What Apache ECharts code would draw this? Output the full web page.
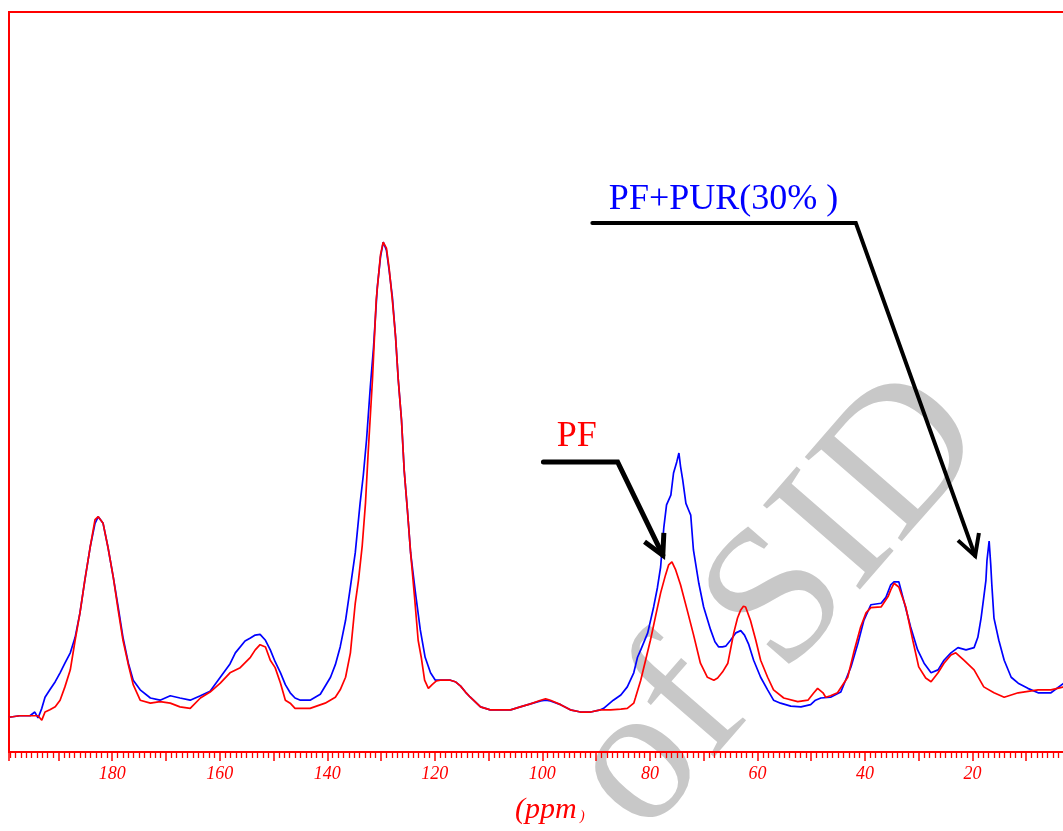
<!DOCTYPE html>
<html>
<head>
<meta charset="utf-8">
<script src="https://cdn.jsdelivr.net/npm/echarts@6/dist/echarts.min.js"></script>
<style>
html,body{margin:0;padding:0;background:#fff;overflow:hidden;width:1063px;height:831px;}
#chart{width:1080px;height:831px;}
</style>
</head>
<body>
<div id="chart"></div>
<script>
// chemical shift (ppm) and intensity (arbitrary units) of PF+PUR(30%)
const ppmBlue = [199.2,197.2,195.3,194.4,193.8,193.1,192.5,191.6,190.6,189.7,188.8,187.8,186.9,186.0,185.1,184.1,183.2,182.6,182.3,181.7,180.8,179.8,178.9,178.0,177.0,176.1,174.8,172.9,171.1,169.2,167.4,165.5,163.6,161.8,159.9,158.1,157.1,155.3,154.3,153.4,152.5,151.5,150.6,149.7,148.7,147.8,146.9,146.0,145.0,143.2,141.3,139.4,138.5,137.6,136.6,135.7,134.8,133.9,133.3,132.7,132.0,131.4,130.7,130.1,129.6,129.0,128.5,127.9,127.3,126.8,126.2,125.7,125.1,124.5,123.6,122.7,121.8,120.8,119.9,119.0,117.1,116.2,115.2,114.3,113.4,111.5,109.7,107.8,105.9,104.1,102.2,100.3,99.4,98.5,96.6,94.8,92.9,91.0,89.2,88.6,86.8,85.4,84.2,83.0,82.3,81.7,80.4,79.3,78.6,78.0,77.4,76.9,76.1,75.6,75.0,74.6,74.3,73.9,73.3,72.8,72.4,71.9,70.9,70.0,68.7,67.9,67.2,66.5,65.9,65.0,64.0,63.1,62.4,61.6,60.7,59.4,58.1,57.0,55.7,53.8,51.9,50.1,49.2,48.2,46.4,44.5,43.6,42.6,41.3,40.2,38.9,37.0,36.1,35.2,34.6,33.7,32.8,31.5,30.2,29.0,27.7,26.4,25.3,24.0,22.7,21.2,19.7,19.0,18.4,17.9,17.5,17.3,16.9,16.6,16.4,16.0,15.1,14.1,12.8,11.5,9.7,7.8,5.4,3.0,2.1];
const intBlue = [4.7,4.9,4.9,5.4,4.6,5.9,7.4,8.4,9.5,10.7,12.0,13.4,15.5,18.8,23.2,27.7,30.9,31.8,31.8,30.9,27.7,23.6,19.6,15.5,12.0,9.7,8.4,7.3,7.0,7.6,7.3,7.0,7.6,8.2,10.1,11.9,13.4,15.0,15.4,15.8,15.9,15.1,13.8,12.2,10.7,9.1,8.0,7.3,7.0,7.0,7.8,10.1,11.8,14.2,17.8,22.3,26.9,33.6,37.4,42.2,49.3,54.7,62.8,66.9,68.9,67.8,65.1,61.5,56.1,50.3,44.9,38.1,32.7,26.9,21.5,16.5,12.8,10.7,9.7,9.7,9.7,9.5,8.9,8.1,7.4,6.1,5.7,5.7,5.7,6.1,6.5,6.9,7.0,6.9,6.4,5.7,5.4,5.4,5.7,5.9,7.0,7.7,8.8,10.7,12.8,13.8,16.1,19.6,22.2,25.0,30.4,33.4,34.7,37.7,39.2,40.4,38.6,36.8,33.6,32.7,32.0,27.3,22.8,19.6,16.5,14.9,14.2,14.2,14.3,15.1,16.1,16.4,15.8,14.5,12.4,10.1,8.4,7.0,6.6,6.2,6.1,6.4,7.0,7.3,7.4,8.1,9.7,11.5,14.7,17.8,19.9,20.1,20.9,22.6,23.0,23.0,20.5,16.9,13.8,12.0,10.7,11.1,12.4,13.4,14.1,13.8,14.1,15.5,18.1,20.9,23.2,25.9,28.5,25.3,22.6,18.1,15.1,12.4,10.1,9.3,8.6,8.0,8.0,9.3,9.5];

// chemical shift (ppm) and intensity of PF
const ppmRed = [199.2,197.2,195.3,193.8,193.1,192.5,191.6,190.6,189.7,188.8,187.8,186.9,186.0,185.1,184.1,183.2,182.6,182.3,181.7,180.8,179.8,178.9,178.0,177.0,176.1,174.8,172.9,171.1,169.2,167.4,165.5,163.6,161.8,159.9,158.1,156.2,154.3,153.4,152.5,151.5,150.6,149.7,148.7,147.8,146.9,146.0,145.0,143.2,140.4,138.5,137.6,136.6,135.7,134.8,134.2,133.5,132.9,132.4,131.6,130.9,130.1,129.6,129.0,128.5,127.9,127.3,126.8,126.2,125.7,125.1,124.5,123.8,123.1,122.5,121.9,121.2,120.5,119.7,119.0,117.1,116.2,115.2,114.3,113.4,111.5,109.7,107.8,105.9,104.1,102.2,100.3,99.4,98.5,96.6,94.8,92.9,91.0,89.2,87.3,85.4,84.2,83.0,82.7,81.7,80.8,79.9,78.9,78.0,77.1,76.5,75.9,75.2,74.3,73.0,71.9,70.6,69.3,68.1,67.4,66.5,65.5,64.4,63.7,63.1,62.6,62.2,61.3,60.3,59.4,58.1,57.0,55.1,52.5,50.6,49.5,48.8,47.8,47.3,46.4,45.1,43.2,42.1,40.8,39.8,38.9,37.0,35.7,35.2,34.6,33.7,32.4,31.1,30.0,28.7,27.7,26.4,25.3,24.0,23.1,21.6,19.7,17.9,16.0,14.1,11.5,7.8,5.4,3.0,2.1];
const intRed = [4.7,4.9,4.9,4.9,4.3,5.4,5.7,6.1,7.0,8.8,11.1,15.1,18.8,23.2,27.7,31.4,31.8,31.8,30.9,27.7,23.6,19.2,15.1,11.8,9.1,7.0,6.6,6.8,6.6,6.1,5.9,7.3,8.1,9.3,10.7,11.4,12.8,13.8,14.5,14.2,12.4,11.4,9.3,7.0,6.6,5.9,5.9,5.9,6.6,7.4,8.4,10.1,13.4,20.1,23.2,27.9,33.6,40.4,50.3,61.1,67.2,68.9,68.1,65.4,61.1,56.1,50.3,44.9,38.1,32.7,26.9,21.2,15.1,12.7,9.7,8.6,9.1,9.6,9.7,9.7,9.5,8.9,8.1,7.4,6.1,5.7,5.7,5.7,6.1,6.5,7.0,7.2,7.0,6.4,5.7,5.4,5.4,5.7,5.7,5.8,5.9,6.6,7.3,9.7,12.4,15.1,18.5,21.5,23.9,25.3,25.7,24.6,22.6,19.0,15.9,12.0,10.1,9.7,10.0,10.8,12.0,16.1,18.1,19.2,19.7,19.6,17.8,15.1,12.4,10.1,8.4,7.3,6.8,7.0,8.0,8.6,8.0,7.4,7.6,8.0,10.1,13.4,16.9,18.8,19.5,19.6,21.0,21.9,22.8,22.3,19.6,15.1,11.5,10.0,9.5,10.7,12.0,13.1,13.4,12.4,11.1,8.8,8.0,7.4,8.0,8.4,8.4,8.8,9.0];

const xTickLabels = [180,160,140,120,100,80,60,40,20];

// annotation anchors in data coordinates [ppm, intensity]
const pfLabel = [93.6, 42.6];
const pfArrow = [[99.8,39.2],[86.0,39.2],[77.6,26.6]];
const pfHead = [[81.0,28.4],[77.6,26.6],[77.4,29.6]];
const purLabel = [66.3, 74.6];
const purArrow = [[90.7,71.5],[41.7,71.5],[19.5,26.5]];
const purHead = [[22.7,28.6],[19.5,26.5],[18.8,29.6]];

const zip = (a,b) => a.map((v,i) => [v, b[i]]);
const RED = '#ff0000', BLUE = '#0000ff';

const chart = echarts.init(document.getElementById('chart'), null, {renderer:'canvas'});
chart.setOption({
  animation: false,
  backgroundColor: '#ffffff',
  grid: {left: 9, right: 0, top: 12, bottom: 79, show: true, borderColor: RED, borderWidth: 2, backgroundColor: 'transparent'},
  xAxis: {
    type: 'value', inverse: true, min: 0, max: 199.2, interval: 10,
    axisLine: {show: true, lineStyle: {color: RED, width: 2}},
    axisTick: {show: true, inside: false, length: 9, lineStyle: {color: RED, width: 1.5}},
    minorTick: {show: true, splitNumber: 10, length: 6, lineStyle: {color: RED, width: 1.3}},
    splitLine: {show: false},
    axisLabel: {
      show: true, margin: 13, color: RED, fontStyle: 'italic', fontFamily: 'Liberation Serif', fontSize: 18,
      showMinLabel: false, showMaxLabel: false,
      formatter: v => xTickLabels.indexOf(Math.round(v)) >= 0 && Math.abs(v - Math.round(v)) < 1e-6 ? String(Math.round(v)) : ''
    }
  },
  yAxis: {
    type: 'value', min: 0, max: 100, show: true,
    axisLine: {show: false}, axisTick: {show: false}, axisLabel: {show: false}, splitLine: {show: false}
  },
  series: [
    {name: 'PF+PUR(30%)', type: 'line', data: zip(ppmBlue, intBlue), showSymbol: false, symbol: 'none',
     lineStyle: {color: BLUE, width: 1.7}, itemStyle: {color: BLUE}, z: 3},
    {name: 'PF', type: 'line', data: zip(ppmRed, intRed), showSymbol: false, symbol: 'none',
     lineStyle: {color: RED, width: 1.7}, itemStyle: {color: RED}, z: 4}
  ]
});

const px = p => chart.convertToPixel({gridIndex: 0}, p);
const pts = arr => arr.map(px);
const pfL = px(pfLabel), purL = px(purLabel);

chart.setOption({
  graphic: [
    {type: 'text', x: 952, y: 405, rotation: 49 * Math.PI / 180, z: 0, silent: true,
     style: {text: 'Archive of SID', font: '196px "Liberation Serif"', fill: '#c8c8c8', align: 'right', verticalAlign: 'middle'}},
    {type: 'text', x: 515, y: 810, z: 50,
     style: {text: '(ppm', font: 'italic 30px "Liberation Serif"', fill: RED, align: 'left', verticalAlign: 'middle'}},
    {type: 'text', x: 580, y: 816, z: 50,
     style: {text: ')', font: 'italic 14px "Liberation Serif"', fill: RED, align: 'left', verticalAlign: 'middle'}},
    {type: 'polyline', z: 60, shape: {points: pts(pfArrow)}, style: {stroke: '#000', lineWidth: 5, fill: null, lineJoin: 'miter', lineCap: 'round'}},
    {type: 'polyline', z: 60, shape: {points: pts(pfHead)}, style: {stroke: '#000', lineWidth: 5, fill: null, lineJoin: 'miter', lineCap: 'butt'}},
    {type: 'polyline', z: 60, shape: {points: pts(purArrow)}, style: {stroke: '#000', lineWidth: 4, fill: null, lineJoin: 'miter', lineCap: 'round'}},
    {type: 'polyline', z: 60, shape: {points: pts(purHead)}, style: {stroke: '#000', lineWidth: 4, fill: null, lineJoin: 'miter', lineCap: 'butt'}},
    {type: 'text', x: pfL[0], y: pfL[1], z: 60,
     style: {text: 'PF', font: '36px "Liberation Serif"', fill: RED, align: 'center', verticalAlign: 'middle'}},
    {type: 'text', x: purL[0], y: purL[1], z: 60,
     style: {text: 'PF+PUR(30% )', font: '36px "Liberation Serif"', fill: BLUE, align: 'center', verticalAlign: 'middle'}}
  ]
});
</script>
</body>
</html>
